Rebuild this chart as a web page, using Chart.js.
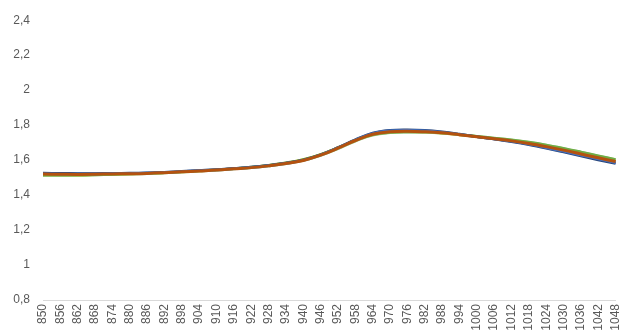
<!DOCTYPE html>
<html>
<head>
<meta charset="utf-8">
<script src="https://cdn.jsdelivr.net/npm/chart.js@4/dist/chart.umd.min.js"></script>
<style>
html,body{margin:0;padding:0;background:#fff;}
#wrap{width:634px;height:336px;}
</style>
</head>
<body>
<div id="wrap"><canvas id="c" width="634" height="336"></canvas></div>
<script>
const wavelengths = [850,856,862,868,874,880,886,892,898,904,910,916,922,928,934,940,946,952,958,964,970,976,982,988,994,1000,1006,1012,1018,1024,1030,1036,1042,1048];

const series1 = [1.522,1.521,1.520,1.521,1.523,1.524,1.526,1.530,1.535,1.540,1.545,1.552,1.559,1.569,1.582,1.600,1.630,1.671,1.716,1.753,1.768,1.771,1.768,1.760,1.748,1.734,1.721,1.707,1.690,1.671,1.650,1.628,1.606,1.585];
const series2 = [1.518,1.517,1.516,1.517,1.519,1.521,1.523,1.527,1.532,1.537,1.542,1.549,1.556,1.566,1.579,1.597,1.627,1.666,1.709,1.744,1.758,1.761,1.759,1.754,1.744,1.733,1.723,1.712,1.698,1.681,1.661,1.640,1.618,1.597];
const series3 = [1.515,1.514,1.514,1.516,1.518,1.520,1.523,1.527,1.532,1.538,1.544,1.551,1.559,1.570,1.584,1.603,1.633,1.672,1.714,1.747,1.760,1.762,1.760,1.754,1.744,1.733,1.722,1.710,1.696,1.678,1.658,1.636,1.614,1.593];
const series4 = [1.512,1.512,1.513,1.515,1.518,1.520,1.522,1.526,1.531,1.536,1.542,1.549,1.556,1.566,1.579,1.597,1.626,1.665,1.708,1.742,1.756,1.759,1.758,1.753,1.745,1.735,1.725,1.715,1.702,1.686,1.667,1.646,1.624,1.603];
const series5 = [1.524,1.523,1.522,1.522,1.523,1.524,1.526,1.529,1.534,1.539,1.544,1.551,1.558,1.568,1.581,1.599,1.629,1.669,1.713,1.750,1.765,1.768,1.765,1.758,1.746,1.733,1.721,1.708,1.692,1.674,1.653,1.631,1.609,1.588];
const series6 = [1.514,1.513,1.513,1.515,1.518,1.520,1.523,1.528,1.533,1.539,1.545,1.552,1.560,1.571,1.585,1.604,1.633,1.671,1.712,1.745,1.758,1.761,1.760,1.755,1.747,1.737,1.727,1.716,1.703,1.687,1.668,1.647,1.625,1.604];
const series7 = [1.526,1.525,1.524,1.524,1.525,1.526,1.528,1.531,1.536,1.541,1.546,1.553,1.560,1.570,1.583,1.601,1.631,1.672,1.717,1.755,1.771,1.774,1.771,1.762,1.749,1.734,1.720,1.705,1.688,1.668,1.646,1.623,1.601,1.580];
const series8 = [1.520,1.519,1.518,1.519,1.521,1.522,1.524,1.528,1.533,1.538,1.543,1.550,1.557,1.567,1.580,1.598,1.628,1.668,1.712,1.748,1.762,1.765,1.762,1.756,1.745,1.733,1.722,1.710,1.695,1.677,1.657,1.635,1.613,1.592];

// first entry is drawn on top
const seriesList = [series8, series1, series7, series6, series5, series4, series3, series2];
const seriesColors = ['#B4520F','#4472C4','#264478','#70AD47','#5B9BD5','#A9D18E','#FFC000','#A5A5A5'];
const seriesWidths = [3, 2.5, 2.5, 2.5, 2.5, 2.5, 2.5, 2.5];

const yTicks = [0.8,1,1.2,1.4,1.6,1.8,2,2.2,2.4];

const font = {family: "'Liberation Sans', Arial, sans-serif", size: 12};

new Chart(document.getElementById('c'), {
  type: 'line',
  data: {
    labels: wavelengths,
    datasets: seriesList.map((s, i) => ({
      data: s,
      borderColor: seriesColors[i],
      borderWidth: seriesWidths[i],
      pointRadius: 0,
      tension: 0.4,
      fill: false
    }))
  },
  options: {
    responsive: false,
    animation: false,
    devicePixelRatio: 1,
    layout: {autoPadding: false, padding: {top: 15, right: 4, left: 0, bottom: 0}},
    plugins: {legend: {display: false}, tooltip: {enabled: false}},
    scales: {
      x: {
        type: 'category',
        offset: false,
        grid: {display: false, drawTicks: false},
        border: {display: true, color: '#D9D9D9', width: 1},
        ticks: {
          autoSkip: false,
          maxRotation: 90,
          minRotation: 90,
          padding: 4,
          color: '#595959',
          font: font
        },
        afterFit: (s) => { s.height = 36; }
      },
      y: {
        min: 0.8,
        max: 2.4,
        afterBuildTicks: (s) => { s.ticks = yTicks.map(v => ({value: v})); },
        grid: {display: false, drawTicks: false},
        border: {display: false},
        ticks: {
          padding: 13,
          color: '#595959',
          font: font,
          callback: (v) => Number(v.toFixed(1)).toString().replace('.', ',')
        },
        afterFit: (s) => { s.width = 43; }
      }
    }
  }
});
</script>
</body>
</html>
